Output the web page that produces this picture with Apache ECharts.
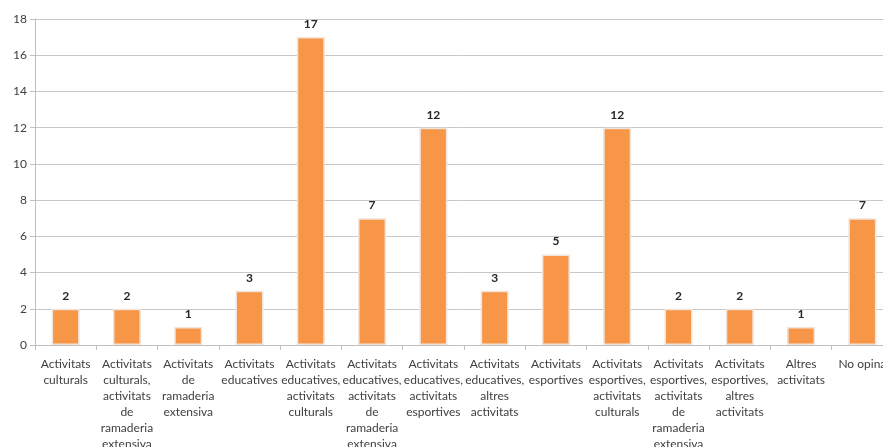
<!DOCTYPE html>
<html><head><meta charset="utf-8">
<script src="https://cdn.jsdelivr.net/npm/echarts@6/dist/echarts.min.js"></script>
<style>html,body{margin:0;padding:0;background:#fff;overflow:hidden}#c{width:883px;height:447px}</style>
</head><body><div id="c"></div>
<script>
const categories = [
  "Activitats\nculturals",
  "Activitats\nculturals,\nactivitats\nde\nramaderia\nextensiva",
  "Activitats\nde\nramaderia\nextensiva",
  "Activitats\neducatives",
  "Activitats\neducatives,\nactivitats\nculturals",
  "Activitats\neducatives,\nactivitats\nde\nramaderia\nextensiva",
  "Activitats\neducatives,\nactivitats\nesportives",
  "Activitats\neducatives,\naltres\nactivitats",
  "Activitats\nesportives",
  "Activitats\nesportives,\nactivitats\nculturals",
  "Activitats\nesportives,\nactivitats\nde\nramaderia\nextensiva",
  "Activitats\nesportives,\naltres\nactivitats",
  "Altres\nactivitats",
  "No opina"
];
const values = [2, 2, 1, 3, 17, 7, 12, 3, 5, 12, 2, 2, 1, 7];
const yTicks = [0, 2, 4, 6, 8, 10, 12, 14, 16, 18];

const chart = echarts.init(document.getElementById('c'));
const font = 'Lato, "Open Sans", sans-serif';
chart.setOption({
  animation: false,
  grid: { left: 35, width: 858, top: 19, bottom: 102, containLabel: false, outerBoundsMode: 'none' },
  xAxis: {
    type: 'category',
    data: categories,
    axisLine: { lineStyle: { color: '#bfbfbf' } },
    axisTick: { show: true, length: 5, lineStyle: { color: '#bfbfbf' } },
    axisLabel: { interval: 0, color: '#404040', fontFamily: font, fontSize: 12, lineHeight: 16, margin: 11 }
  },
  yAxis: {
    type: 'value', min: 0, max: 18, interval: 2,
    axisLine: { show: true, lineStyle: { color: '#bfbfbf' } },
    axisTick: { show: true, length: 5, lineStyle: { color: '#bfbfbf' } },
    splitLine: { lineStyle: { color: '#c8c8c8' } },
    axisLabel: { color: '#404040', fontFamily: font, fontSize: 12, margin: 8,
      formatter: v => yTicks.includes(v) ? String(v) : '' }
  },
  series: [{
    type: 'bar',
    data: values,
    barWidth: 28,
    itemStyle: { color: '#F79646', borderColor: '#f1e4da', borderWidth: 1.5 },
    label: { show: true, position: 'top', distance: 7, color: '#262626', fontFamily: font, fontSize: 12, fontWeight: 'bold' }
  }]
});
</script></body></html>
